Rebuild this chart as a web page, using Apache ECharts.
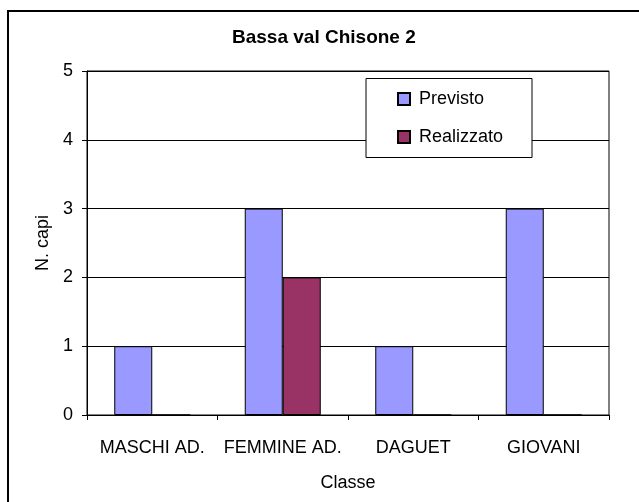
<!DOCTYPE html>
<html>
<head>
<meta charset="utf-8">
<script src="https://cdn.jsdelivr.net/npm/echarts@6/dist/echarts.min.js"></script>
<style>html,body{margin:0;padding:0;background:#fff}#c{width:639px;height:502px}</style>
</head>
<body>
<div id="c"></div>
<script>
const titleText = 'Bassa val Chisone 2';
const categories = ['MASCHI AD.', 'FEMMINE AD.', 'DAGUET', 'GIOVANI'];
const previsto = [1, 3, 1, 3];
const realizzato = [0, 2, 0, 0];
const yTicks = [0, 1, 2, 3, 4, 5];
const seriesNames = ['Previsto', 'Realizzato'];

const FONT = "'Liberation Sans', Arial, sans-serif";
const chart = echarts.init(document.getElementById('c'), null, {renderer: 'canvas'});
chart.setOption({
  animation: false,
  backgroundColor: '#fff',
  textStyle: {fontFamily: FONT},
  title: {
    text: titleText, left: 232, top: 28, padding: 0,
    textStyle: {fontFamily: FONT, fontWeight: 'bold', fontSize: 19, color: '#000'}
  },
  grid: {left: 87, right: 30, top: 71, bottom: 87, show: true, borderColor: '#000', borderWidth: 1, containLabel: false},
  legend: {
    orient: 'vertical', left: 397, top: 90, padding: 0, itemWidth: 12, itemHeight: 12, itemGap: 20, z: 20,
    icon: 'rect',
    data: seriesNames,
    textStyle: {fontFamily: FONT, fontSize: 18, lineHeight: 18, color: '#000', padding: [0, 0, 0, 4]}
  },
  graphic: [
    {type: 'rect', z: 10, shape: {x: 366, y: 78.5, width: 166, height: 79}, style: {fill: '#fff', stroke: '#000', lineWidth: 1}},
    {type: 'rect', z: 10, shape: {x: 8, y: 11, width: 700, height: 600}, style: {fill: 'none', stroke: '#000', lineWidth: 2}}
  ],
  xAxis: {
    type: 'category', data: categories,
    name: 'Classe', nameLocation: 'middle', nameGap: 59,
    nameTextStyle: {fontFamily: FONT, fontSize: 18, color: '#000'},
    axisLine: {lineStyle: {color: '#000', width: 1}},
    axisTick: {show: true, length: 5, lineStyle: {color: '#000'}},
    axisLabel: {fontFamily: FONT, fontSize: 18, color: '#000', margin: 24, interval: 0},
    splitLine: {show: false}
  },
  yAxis: {
    type: 'value', min: yTicks[0], max: yTicks[yTicks.length - 1], interval: 1,
    name: 'N. capi', nameLocation: 'middle', nameGap: 34,
    nameTextStyle: {fontFamily: FONT, fontSize: 18, color: '#000'},
    axisLine: {show: true, lineStyle: {color: '#000', width: 1}},
    axisTick: {show: true, length: 5, lineStyle: {color: '#000'}},
    axisLabel: {fontFamily: FONT, fontSize: 18, color: '#000', margin: 14},
    splitLine: {show: true, lineStyle: {color: '#000', width: 1}}
  },
  series: [
    {name: seriesNames[0], type: 'bar', data: previsto, barWidth: 38, barGap: '0%',
     itemStyle: {color: '#9999FF', borderColor: '#000', borderWidth: 1}},
    {name: seriesNames[1], type: 'bar', data: realizzato, barWidth: 38, barGap: '0%',
     itemStyle: {color: '#993366', borderColor: '#000', borderWidth: 1}}
  ]
});
</script>
</body>
</html>
